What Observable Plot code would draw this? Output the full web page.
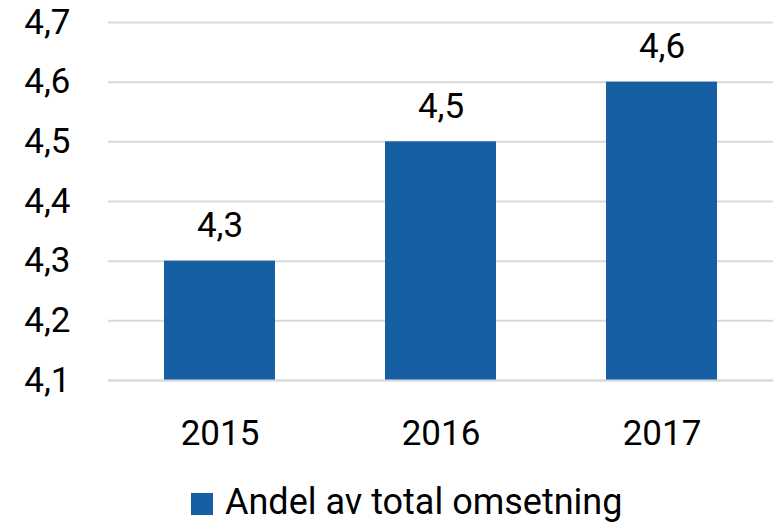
<!DOCTYPE html>
<html>
<head>
<meta charset="utf-8">
<script src="https://cdn.jsdelivr.net/npm/d3@7"></script>
<script src="https://cdn.jsdelivr.net/npm/@observablehq/plot@0.6"></script>
<style>
  html, body { margin: 0; padding: 0; background: #fff; }
  #chart { width: 773px; }
  #legend { position: relative; height: 54px; width: 773px; font-family: Roboto, sans-serif; }
  #legend .sw { position: absolute; left: 191px; top: 23px; width: 22px; height: 22px; background: #165fa3; }
  #legend .lb { position: absolute; left: 225px; top: 11px; font-size: 36px; line-height: 42px; color: #000; white-space: nowrap; }
</style>
</head>
<body>
<div id="chart"></div>
<div id="legend"><div class="sw"></div><div class="lb"></div></div>
<script>
const years = ["2015", "2016", "2017"];
const values = [4.3, 4.5, 4.6];
const yTicks = [4.1, 4.2, 4.3, 4.4, 4.5, 4.6, 4.7];
const seriesName = "Andel av total omsetning";

const data = years.map((y, i) => ({year: y, value: values[i]}));
const fmt = d => d.toFixed(1).replace(".", ",");
const color = "#165fa3";
const base = 4.1;

const chart = Plot.plot({
  width: 773,
  height: 470,
  marginLeft: 108,
  marginRight: 0,
  marginTop: 22,
  marginBottom: 90,
  style: {fontFamily: "Roboto, sans-serif", fontSize: "35px", color: "#000", background: "#fff", overflow: "visible"},
  x: {domain: years, paddingInner: 0.5, paddingOuter: 0.25, label: null},
  y: {domain: [4.1, 4.7], label: null},
  marks: [
    Plot.ruleY(yTicks, {stroke: "#d9d9d9", strokeWidth: 2}),
    Plot.rectY(data, {x: "year", y1: () => base, y2: "value", fill: color}),
    Plot.ruleY([base], {stroke: "#d9d9d9", strokeWidth: 2}),
    Plot.text(data, {x: "year", y: "value", text: d => fmt(d.value), dy: -35, lineAnchor: "middle", fontSize: 35, fill: "#000"}),
    Plot.axisY({ticks: yTicks, tickFormat: fmt, tickSize: 0, tickPadding: 38, fontSize: 35, label: null}),
    Plot.axisX({tickSize: 0, tickPadding: 40, fontSize: 35, label: null})
  ]
});
document.getElementById("chart").appendChild(chart);
document.querySelector("#legend .lb").textContent = seriesName;
</script>
</body>
</html>
